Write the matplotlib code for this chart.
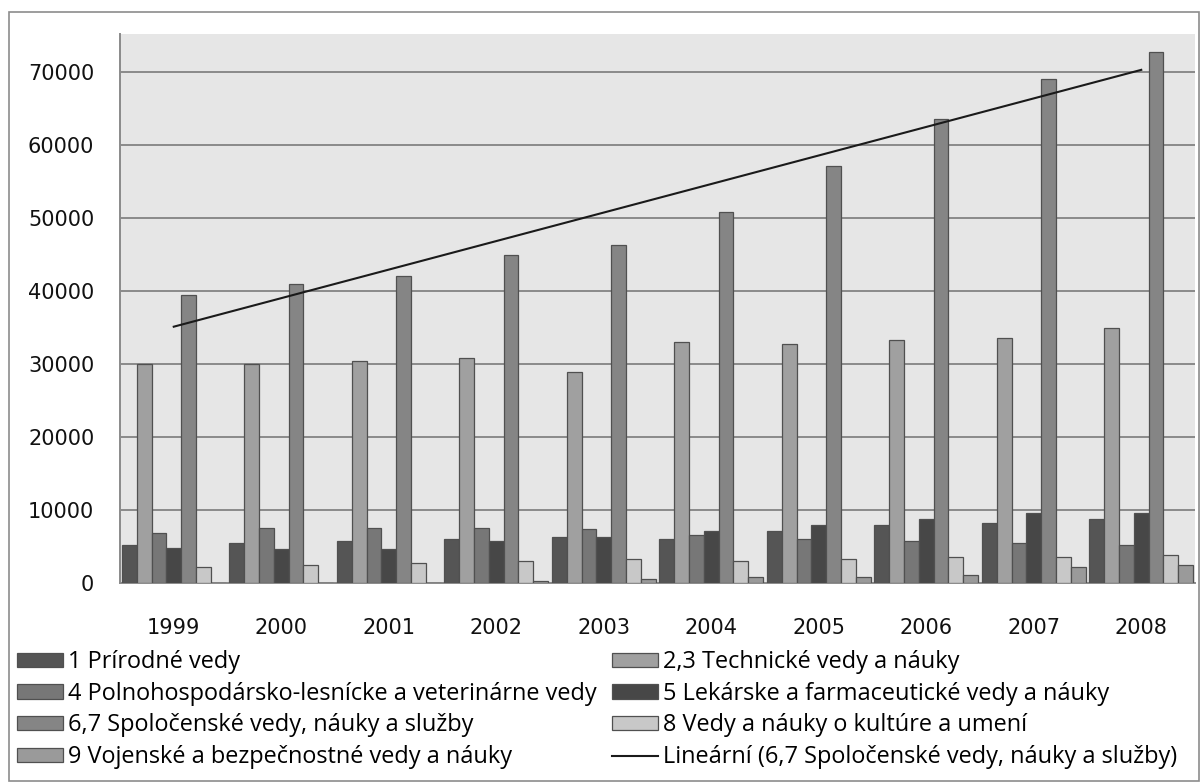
import numpy as np
import matplotlib.pyplot as plt
from matplotlib.patches import Patch, Rectangle
from matplotlib.lines import Line2D

# data
years = ['1999', '2000', '2001', '2002', '2003', '2004', '2005', '2006', '2007', '2008']
prirodne = [5200, 5500, 5800, 6050, 6250, 6050, 7150, 7950, 8200, 8800]
technicke = [30000, 30000, 30350, 30800, 28900, 33000, 32750, 33250, 33600, 34950]
polnohosp = [6900, 7600, 7600, 7600, 7350, 6600, 6050, 5800, 5500, 5200]
lekarske = [4750, 4700, 4700, 5800, 6250, 7150, 7950, 8750, 9600, 9600]
spolocenske = [39400, 41000, 42100, 44930, 46250, 50800, 57120, 63600, 69040, 72740]
kultura = [2150, 2400, 2750, 3000, 3300, 3000, 3300, 3500, 3500, 3800]
vojenske = [0, 0, 0, 300, 530, 800, 800, 1050, 2150, 2450]

labels = ['1 Prírodné vedy',
          '2,3 Technické vedy a náuky',
          '4 Polnohospodársko-lesnícke a veterinárne vedy',
          '5 Lekárske a farmaceutické vedy a náuky',
          '6,7 Spoločenské vedy, náuky a služby',
          '8 Vedy a náuky o kultúre a umení',
          '9 Vojenské a bezpečnostné vedy a náuky']
trend_label = 'Lineární (6,7 Spoločenské vedy, náuky a služby)'

series = [prirodne, technicke, polnohosp, lekarske, spolocenske, kultura, vojenske]
colors = ['#555555', '#a0a0a0', '#777777', '#474747', '#858585', '#c8c8c8', '#9a9a9a']

W, H = 1202, 783
fig = plt.figure(figsize=(W / 100, H / 100), dpi=100)
fig.patch.set_facecolor('white')
# outer frame
fig.patches.append(Rectangle((9 / W, 1 - 781 / H), 1190 / W, 769 / H, transform=fig.transFigure,
                             fill=False, edgecolor='#8c8c8c', linewidth=1.2))

ax = fig.add_axes([120 / W, 1 - 583 / H, 1075 / W, 549 / H])
ax.set_facecolor('#e6e6e6')

x = np.arange(len(years))
width = 0.1377
handles = []
for i, (vals, c) in enumerate(zip(series, colors)):
    ax.bar(x + (i - 3) * width, vals, width, color=c, edgecolor='#505050', linewidth=0.9, zorder=3)
    handles.append(Patch(facecolor=c, edgecolor='#505050', linewidth=0.9))

# linear trend of series 6,7
k, q = np.polyfit(x, spolocenske, 1)
ax.plot(x, k * x + q, color='#1a1a1a', linewidth=1.5, zorder=4)
trend_handle = Line2D([], [], color='#1a1a1a', linewidth=1.5)

ax.set_xlim(-0.5, 9.5)
ax.set_ylim(0, 75200)
ax.set_yticks(np.arange(0, 70001, 10000))
ax.set_xticks(x)
ax.set_xticklabels(years)
ax.yaxis.grid(True, color='#8a8a8a', linewidth=1.4, zorder=0)
ax.set_axisbelow(True)
for s in ['top', 'right']:
    ax.spines[s].set_visible(False)
for s in ['left', 'bottom']:
    ax.spines[s].set_color('#8a8a8a')
    ax.spines[s].set_linewidth(1.4)
ax.tick_params(axis='both', length=0, labelsize=15, colors='#111111')
ax.tick_params(axis='y', pad=18.5)
ax.tick_params(axis='x', pad=25)

leg_kw = dict(loc='upper left', frameon=False, prop={'family': 'Open Sans', 'size': 16.9},
              handlelength=1.96, handleheight=0.55, handletextpad=0.21,
              labelspacing=0.33, borderpad=0, borderaxespad=0)
col1 = [handles[0], handles[2], handles[4], handles[6]]
col2 = [handles[1], handles[3], handles[5], trend_handle]
lab1 = [labels[0], labels[2], labels[4], labels[6]]
lab2 = [labels[1], labels[3], labels[5], trend_label]
fig.legend(col1, lab1, bbox_to_anchor=(17 / W, 1 - 650 / H), **leg_kw)
fig.legend(col2, lab2, bbox_to_anchor=(612 / W, 1 - 650 / H), **leg_kw)

fig.savefig('out.png', dpi=100)
